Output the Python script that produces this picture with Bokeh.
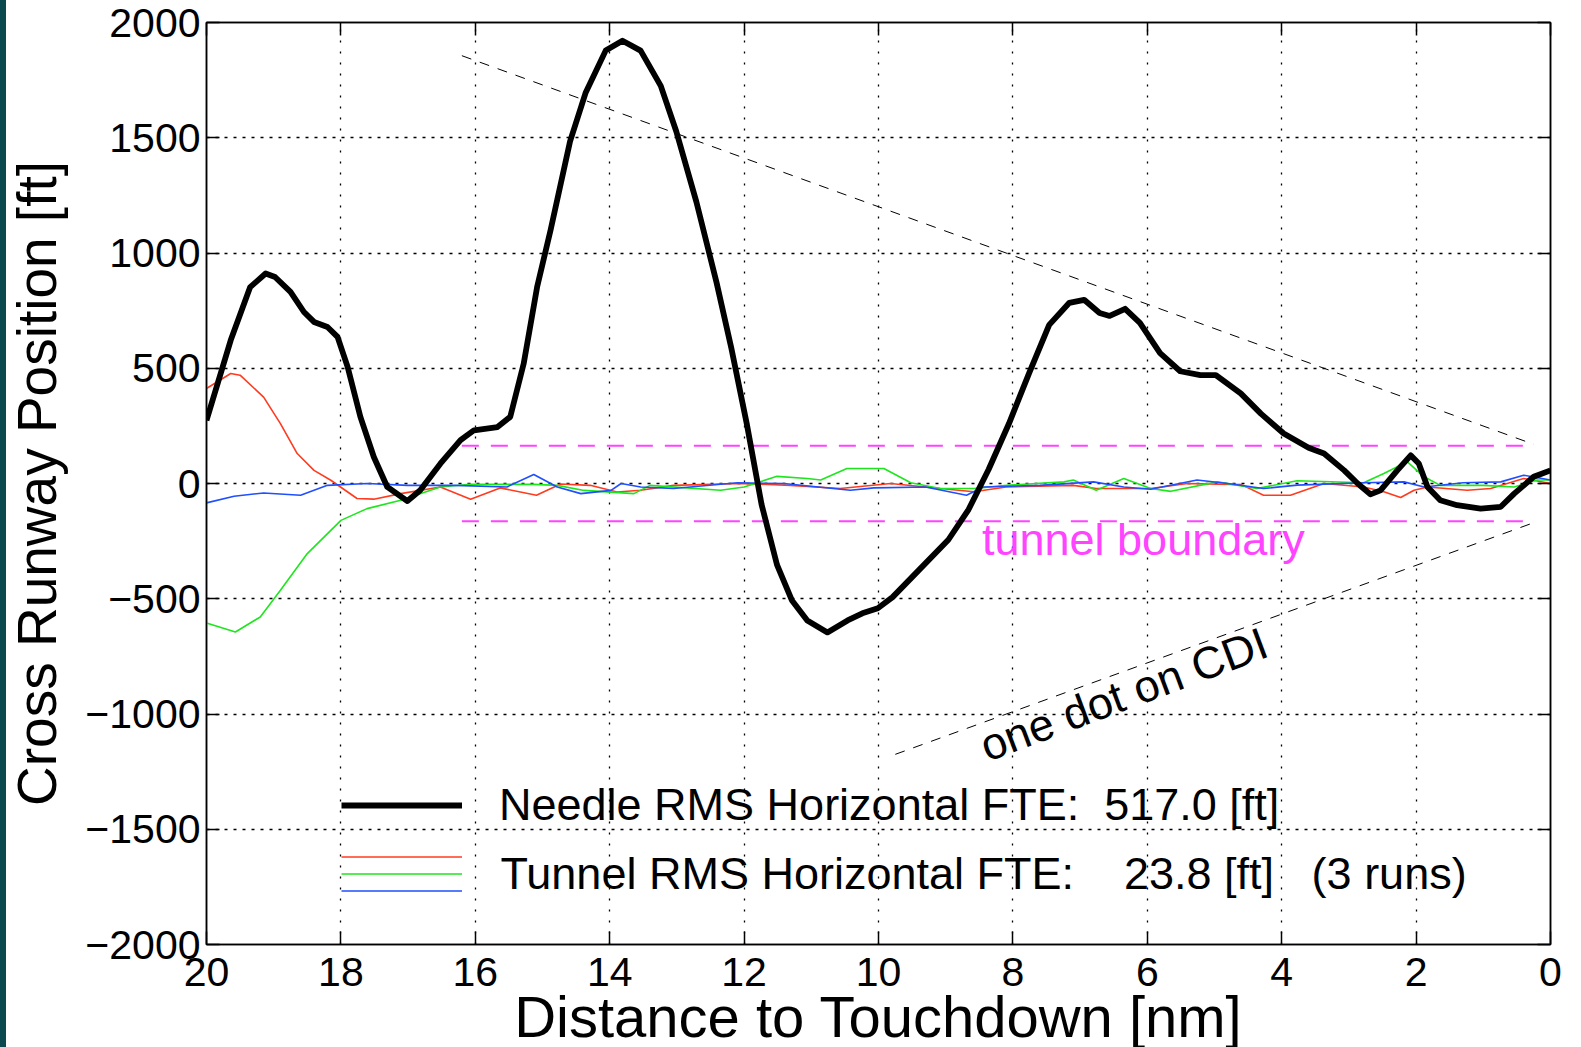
from bokeh.plotting import figure
from bokeh.models import (Range1d, FixedTicker, LinearAxis, Legend, LegendItem, Label)
from bokeh.embed import file_html
from bokeh.resources import INLINE

try:
    from bokeh.models import GlobalInlineStyleSheet
except Exception:
    GlobalInlineStyleSheet = None

# ---------------- data ----------------
x_ticks = [0, 2, 4, 6, 8, 10, 12, 14, 16, 18, 20]
y_ticks = [-2000, -1500, -1000, -500, 0, 500, 1000, 1500, 2000]

needle_d = [20.0, 19.64, 19.35, 19.12, 18.98, 18.75, 18.55, 18.40, 18.20, 18.05, 17.90, 17.71,
            17.51, 17.31, 17.01, 16.82, 16.52, 16.22, 16.02, 15.67, 15.48, 15.28, 15.08, 14.88,
            14.59, 14.36, 14.06, 13.81, 13.54, 13.24, 13.01, 12.71, 12.41, 12.19, 11.96, 11.74,
            11.51, 11.29, 11.06, 10.76, 10.46, 10.24, 10.01, 9.79, 9.41, 8.96, 8.66, 8.36, 8.06,
            7.76, 7.46, 7.16, 6.94, 6.71, 6.56, 6.33, 6.11, 5.81, 5.51, 5.21, 4.98, 4.61, 4.31,
            3.97, 3.60, 3.37, 3.07, 2.87, 2.68, 2.53, 2.28, 2.08, 1.96, 1.83, 1.64, 1.39, 1.04,
            0.74, 0.54, 0.25, 0.0]
needle_v = [274, 621, 852, 911, 896, 831, 744, 701, 679, 636, 506, 289,
            115, -15, -76, -29, 86, 188, 231, 245, 289, 520, 853, 1099,
            1484, 1694, 1878, 1921, 1878, 1725, 1528, 1222, 872, 587, 259, -91,
            -353, -506, -594, -646, -594, -563, -541, -493, -379, -244, -113, 62, 259,
            478, 688, 784, 797, 740, 727, 758, 697, 566, 487, 470, 470, 391, 303,
            217, 155, 130, 57, 0, -47, -30, 57, 122, 87, -15, -73, -94, -109,
            -101, -44, 29, 57]

red_d = [20.0, 19.64, 19.5, 19.15, 18.9, 18.65, 18.4, 18.15, 17.76, 17.51, 17.11, 16.52, 16.07,
         15.63, 15.09, 14.73, 14.29, 13.89, 13.54, 13.05, 12.06, 11.31, 10.57, 9.82, 9.08, 8.58,
         8.1, 7.1, 6.76, 5.95, 5.4, 4.6, 4.27, 3.87, 3.37, 2.78, 2.48, 2.23, 2.03, 1.83, 1.24,
         0.89, 0.4, 0.0]
red_v = [412, 477, 470, 375, 260, 130, 57, 14, -65, -68, -44, -15, -68,
         -19, -51, -2, -8, -37, -29, -8, 0, -8, -22, 0, -22, -36,
         -15, -8, -22, -22, 0, -5, -51, -51, 0, -15, -36, -61, -29, -15, -29,
         -22, 22, 0]

green_d = [20.0, 19.57, 19.2, 18.9, 18.5, 18.0, 17.61, 17.11, 16.52, 16.12, 15.13, 14.78, 14.38,
           13.64, 13.4, 12.35, 12.0, 11.51, 11.06, 10.86, 10.47, 9.92, 9.52, 9.08, 8.58, 8.09,
           7.24, 7.1, 6.76, 6.35, 5.95, 5.65, 4.96, 4.37, 3.77, 2.78, 2.48, 2.13, 1.88, 1.64,
           1.0, 0.54, 0.2, 0.0]
green_v = [-605, -644, -579, -463, -304, -160, -109, -73, -15, -4, -4, -8, -30,
           -44, -8, -29, -15, 31, 22, 15, 65, 65, 3, -22, -22, -8,
           7, 15, -29, 22, -22, -34, 7, -22, 12, 3, 43, 94, 29, -8,
           -8, -15, 15, 15]

blue_d = [20.0, 19.59, 19.15, 18.6, 18.2, 17.61, 17.01, 16.31, 15.53, 15.13, 14.78, 14.43, 13.98,
          13.83, 13.54, 13.05, 12.1, 11.41, 10.42, 10.07, 9.3, 8.69, 8.44, 7.6, 6.8, 6.35, 5.95,
          5.26, 4.8, 4.27, 3.77, 2.78, 2.18, 1.88, 1.3, 0.74, 0.4, 0.0]
blue_v = [-84, -55, -41, -51, -8, 0, -8, -8, -15, 39, -15, -44, -30,
          0, -15, -22, 3, 0, -29, -19, -15, -51, -15, -8, 7, -15, -25,
          15, 0, -22, -7, 3, 7, -15, 3, 7, 36, 15]

tunnel_d = [16.2, 0.25]
tunnel_upper = [164, 164]
tunnel_lower = [-164, -164]

cdi_up_d = [16.2, 0.25]
cdi_up_v = [1856, 170]
cdi_low_d = [9.75, 0.25]
cdi_low_v = [-1175, -170]

needle_label = "Needle RMS Horizontal FTE:\u00a0 517.0 [ft]"
tunnel_label = "Tunnel RMS Horizontal FTE:\u00a0\u00a0\u00a0 23.8 [ft]\u00a0\u00a0 (3 runs)"
x_title = "Distance to Touchdown [nm]"
y_title = "Cross Runway Position [ft]"

FONT = "Liberation Sans"
RED, GREEN, BLUE, MAG = "#ff3b1f", "#1ee61e", "#1f4fff", "#ff44ff"

# ---------------- figure ----------------
# the figure is a little taller than the window: its lowest strip (descenders of the
# x-axis title) is cut off by the window edge, as in the reference picture
p = figure(width=1581, height=1070, output_backend="svg", toolbar_location=None,
           x_range=Range1d(20, 0), y_range=Range1d(-2000, 2000),
           min_border_left=206, min_border_right=31, min_border_top=22, min_border_bottom=126)
p.background_fill_color = "white"
p.border_fill_color = None
p.outline_line_color = "black"
p.outline_line_width = 1.5

if GlobalInlineStyleSheet is not None:
    p.stylesheets = [GlobalInlineStyleSheet(
        css="html { background: linear-gradient(90deg, #0a4a4f 0px, #0a4a4f 6px, #ffffff 6px) !important; }"
            " html, body { overflow: hidden !important; }")]

xt = FixedTicker(ticks=x_ticks)
yt = FixedTicker(ticks=y_ticks)
y_over = {t: ("\u2212" + str(abs(t)) if t < 0 else str(t)) for t in y_ticks}

xa = p.xaxis[0]
ya = p.yaxis[0]
for ax in (xa, ya):
    ax.axis_line_color = "black"
    ax.axis_line_width = 1.5
    ax.major_tick_in = 13
    ax.major_tick_out = 0
    ax.major_tick_line_color = "black"
    ax.major_tick_line_width = 1.5
    ax.minor_tick_line_color = None
    ax.major_label_text_font = FONT
    ax.major_label_text_font_size = "41px"
    ax.major_label_text_color = "black"
    ax.axis_label_text_font = FONT
    ax.axis_label_text_font_style = "normal"
    ax.axis_label_text_color = "black"

xa.ticker = xt
xa.major_label_standoff = 13
xa.axis_label = x_title
xa.axis_label_text_font_size = "58px"
xa.axis_label_standoff = -5

ya.ticker = yt
ya.major_label_overrides = y_over
ya.major_label_standoff = 6
ya.axis_label = y_title
ya.axis_label_text_font_size = "55px"
ya.axis_label_standoff = 14

# box ticks on top and right
for loc, tk in (("above", xt), ("right", yt)):
    ax = LinearAxis(ticker=tk, axis_line_color="black", axis_line_width=1.5,
                    major_tick_in=13, major_tick_out=0, major_tick_line_color="black",
                    major_tick_line_width=1.5, minor_tick_line_color=None,
                    major_label_overrides={t: "" for t in tk.ticks},
                    major_label_text_font_size="1px", major_label_standoff=0)
    p.add_layout(ax, loc)

p.xgrid.ticker = xt
p.ygrid.ticker = yt
p.xgrid.grid_line_color = "black"
p.xgrid.grid_line_dash = "2 9"
p.xgrid.grid_line_width = 1.3
p.ygrid.grid_line_color = "black"
p.ygrid.grid_line_dash = "3 6"
p.ygrid.grid_line_width = 1.3

# ---------------- series ----------------
p.line(tunnel_d, tunnel_upper, line_color=MAG, line_width=2, line_dash="17 12")
p.line(tunnel_d, tunnel_lower, line_color=MAG, line_width=2, line_dash="17 12")
p.line(cdi_up_d, cdi_up_v, line_color="black", line_width=1, line_dash="10 9")
p.line(cdi_low_d, cdi_low_v, line_color="black", line_width=1, line_dash="10 9")

r_red = p.line(red_d, red_v, line_color=RED, line_width=1.6)
r_green = p.line(green_d, green_v, line_color=GREEN, line_width=1.6)
r_blue = p.line(blue_d, blue_v, line_color=BLUE, line_width=1.6)
r_needle = p.line(needle_d, needle_v, line_color="black", line_width=5.8, line_join="round")

# ---------------- annotations ----------------
p.add_layout(Label(x=8.46, y=-245, text="tunnel boundary", text_color=MAG,
                   text_font=FONT, text_font_size="45px", text_baseline="alphabetic"))
p.add_layout(Label(x=8.46, y=-1145, text="one dot on CDI", text_color="black",
                   text_font=FONT, text_font_size="45px", text_baseline="alphabetic",
                   angle=20.5, angle_units="deg"))

legA = Legend(items=[LegendItem(label=needle_label, renderers=[r_needle])],
              location=(135, 113), orientation="vertical",
              glyph_width=121, glyph_height=52, label_height=52, label_standoff=37,
              label_text_font=FONT, label_text_font_size="45px", label_text_color="black",
              padding=0, margin=0, spacing=0, border_line_color=None,
              background_fill_alpha=0)
p.add_layout(legA)

legB = Legend(items=[LegendItem(label=" ", renderers=[r_red]),
                     LegendItem(label=" ", renderers=[r_green]),
                     LegendItem(label=" ", renderers=[r_blue])],
              location=(135, 46), orientation="vertical",
              glyph_width=121, glyph_height=15, label_height=15, label_standoff=0,
              label_text_font=FONT, label_text_font_size="12px",
              padding=0, margin=0, spacing=2, border_line_color=None,
              background_fill_alpha=0)
p.add_layout(legB)

p.add_layout(Label(x=294, y=71, x_units="screen", y_units="screen", text=tunnel_label,
                   text_color="black", text_font=FONT, text_font_size="45px",
                   text_baseline="alphabetic"))

open("out.html", "w").write(file_html(p, INLINE))
